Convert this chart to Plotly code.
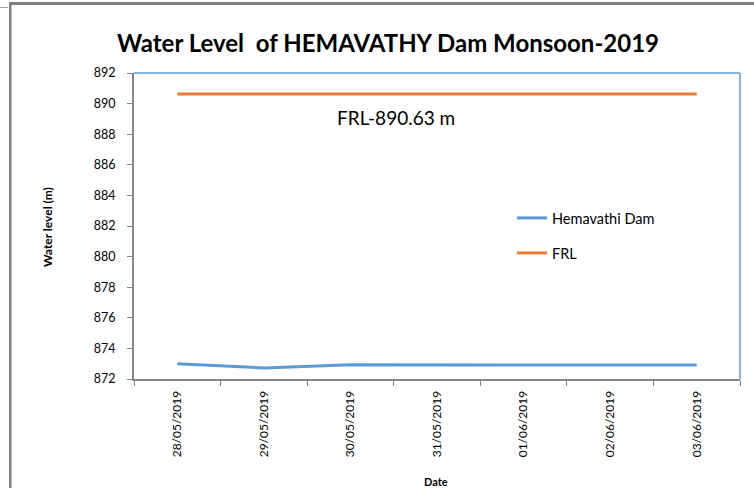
import plotly.graph_objects as go

dates = ["28/05/2019", "29/05/2019", "30/05/2019", "31/05/2019",
         "01/06/2019", "02/06/2019", "03/06/2019"]
hemavathi = [873.0, 872.72, 872.93, 872.93, 872.91, 872.91, 872.91]
frl = [890.63] * 7
y_ticks = list(range(872, 893, 2))

W, H = 754, 488
L, R, T, B = 134, 14, 73, 109
pw, ph = W - L - R, H - T - B

def px(x):
    return (x - L) / pw

def py(y):
    return (H - B - y) / ph

FONT = "Lato"
fig = go.Figure()
fig.add_trace(go.Scatter(x=dates, y=hemavathi, mode="lines", name="Hemavathi Dam",
                         line=dict(color="#5B9BD5", width=3), legend="legend"))
fig.add_trace(go.Scatter(x=dates, y=frl, mode="lines", name="FRL",
                         line=dict(color="#ED7D31", width=3), legend="legend2"))

fig.update_layout(
    width=W, height=H,
    margin=dict(l=L, r=R, t=T, b=B, autoexpand=False),
    paper_bgcolor="white", plot_bgcolor="white",
    font=dict(family=FONT, color="black", size=12),
    title=dict(text="<b>Water Level  of HEMAVATHY Dam Monsoon-2019</b>",
               x=388 / W, xref="container", xanchor="center",
               y=1 - 44 / H, yref="container", yanchor="middle",
               font=dict(size=24, family=FONT)),
    legend=dict(x=px(512), y=py(218), xanchor="left", yanchor="middle",
                bgcolor="rgba(0,0,0,0)", font=dict(size=14.5)),
    legend2=dict(x=px(512), y=py(253), xanchor="left", yanchor="middle",
                 bgcolor="rgba(0,0,0,0)", font=dict(size=14.5)),
    showlegend=True,
)
fig.update_xaxes(
    type="category", range=[-0.5, 6.5], tickangle=-90, tickson="boundaries",
    ticks="outside", ticklen=5, tickcolor="#868686", automargin=False,
    showline=True, linecolor="#868686", linewidth=2, showgrid=False,
    tickfont=dict(size=12, family=FONT), ticklabelstandoff=5,
)
fig.update_yaxes(
    range=[872, 892], tickvals=y_ticks, ticktext=[str(v) for v in y_ticks],
    ticks="outside", ticklen=5, tickcolor="#868686", automargin=False,
    showline=True, linecolor="#868686", linewidth=2, showgrid=False,
    zeroline=False, tickfont=dict(size=12.5, family=FONT), ticklabelstandoff=9,
)

# axis titles
fig.add_annotation(text="<b>Water level (m)</b>", xref="paper", yref="paper",
                   x=px(47), y=py(227), xanchor="center", yanchor="middle",
                   textangle=-90, showarrow=False,
                   font=dict(size=12, family=FONT, color="black"))
fig.add_annotation(text="<b>Date</b>", xref="paper", yref="paper",
                   x=px(436), y=py(481), xanchor="center", yanchor="middle",
                   showarrow=False,
                   font=dict(size=11, family=FONT, color="black"))

# plot-area border (top and right) in blue
fig.add_shape(type="line", xref="paper", yref="paper", x0=0, x1=1, y0=1, y1=1,
              line=dict(color="#5B9BD5", width=1.5))
fig.add_shape(type="line", xref="paper", yref="paper", x0=1, x1=1, y0=0, y1=1,
              line=dict(color="#5B9BD5", width=1.5))
# outer gray frame
fig.add_shape(type="rect", xref="paper", yref="paper", layer="above",
              x0=px(9), x1=px(11.5), y0=py(3), y1=py(H + 5),
              fillcolor="#808080", line=dict(width=0))
fig.add_shape(type="rect", xref="paper", yref="paper", layer="above",
              x0=px(0), x1=px(8), y0=py(7), y1=py(8),
              fillcolor="#A0A0A0", line=dict(width=0))

fig.add_annotation(text="FRL-890.63 m", xref="paper", yref="paper",
                   x=px(396), y=py(117), xanchor="center", yanchor="middle",
                   showarrow=False,
                   font=dict(size=19, family=FONT, color="black"))

post = """
document.body.style.margin='0';
document.body.style.padding='0';
var d=document.createElement('div');
d.style.position='absolute';
d.style.left='9px';
d.style.top='2px';
d.style.width='750px';
d.style.height='0px';
d.style.borderTop='3px solid #808080';
d.style.pointerEvents='none';
d.style.zIndex='1000';
document.body.appendChild(d);
"""

fig.write_html("out.html", config={"displayModeBar": False}, post_script=post)
